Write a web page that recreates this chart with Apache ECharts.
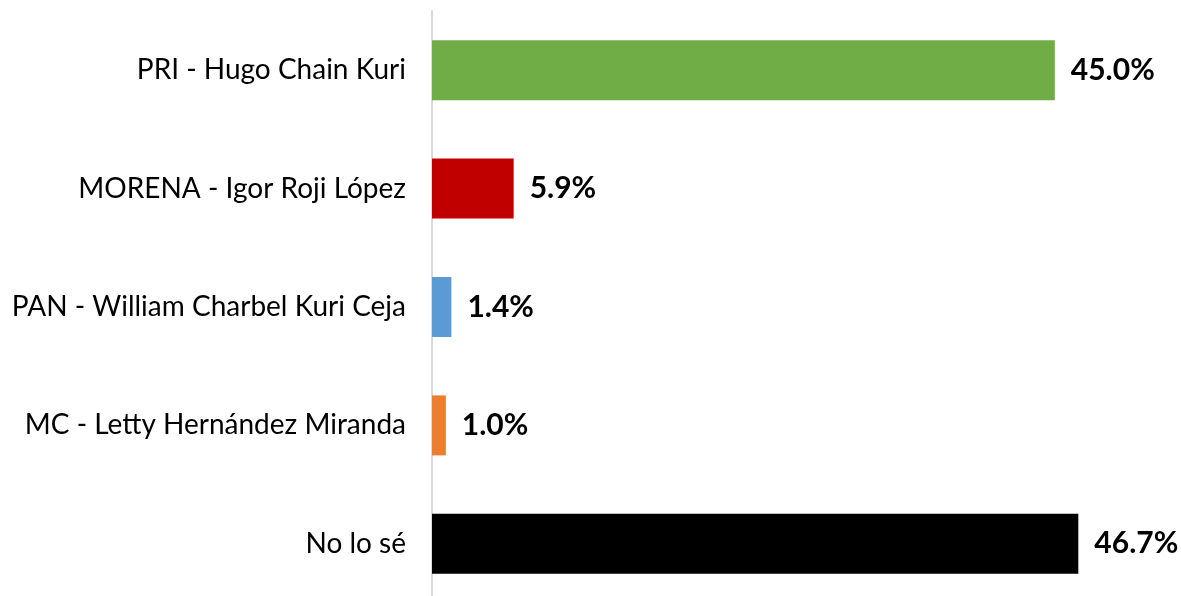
<!DOCTYPE html>
<html>
<head>
<meta charset="utf-8">
<script src="https://cdn.jsdelivr.net/npm/echarts@6/dist/echarts.min.js"></script>
<style>
html, body { margin: 0; padding: 0; background: #fff; }
#chart { width: 1181px; height: 596px; }
</style>
</head>
<body>
<div id="chart"></div>
<script>
// categories top to bottom
const candidatos = [
  'PRI - Hugo Chain Kuri',
  'MORENA - Igor Roji López',
  'PAN - William Charbel Kuri Ceja',
  'MC - Letty Hernández Miranda',
  'No lo sé'
];
const porcentajes = [45.0, 5.9, 1.4, 1.0, 46.7];
const colores = ['#70ad47', '#c00000', '#5b9bd5', '#ed7d31', '#000000'];

const chart = echarts.init(document.getElementById('chart'));
chart.setOption({
  animation: false,
  grid: { left: 432, right: 57, top: 11, bottom: -7, outerBoundsMode: 'none' },
  xAxis: {
    type: 'value',
    min: 0,
    max: 50,
    show: false
  },
  yAxis: {
    type: 'category',
    inverse: true,
    data: candidatos,
    axisLine: { show: true, lineStyle: { color: '#d9d9d9', width: 2 } },
    axisTick: { show: false },
    axisLabel: {
      color: '#000',
      fontFamily: 'Lato',
      fontSize: 28,
      margin: 26
    }
  },
  series: [{
    type: 'bar',
    barWidth: 60,
    data: porcentajes.map((v, i) => ({ value: v, itemStyle: { color: colores[i] } })),
    label: {
      show: true,
      position: 'right',
      distance: 16,
      color: '#000',
      fontFamily: 'Lato',
      fontWeight: 'bold',
      fontSize: 30,
      formatter: p => p.value.toFixed(1) + '%'
    }
  }]
});
</script>
</body>
</html>
